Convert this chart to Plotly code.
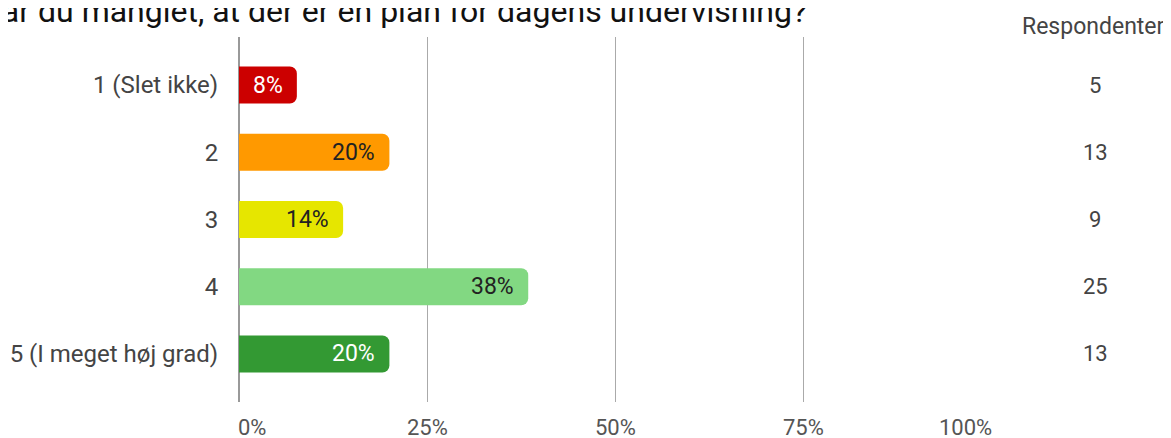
import plotly.graph_objects as go

categories = ["1 (Slet ikke)", "2", "3", "4", "5 (I meget høj grad)"]
counts = [5, 13, 9, 25, 13]
colors = ["#cc0000", "#ff9900", "#e6e600", "#82d882", "#339933"]
text_colors = ["#ffffff", "#222222", "#222222", "#222222", "#ffffff"]
tick_vals = [0, 25, 50, 75, 100]
tick_text = ["0%", "25%", "50%", "75%", "100%"]
title_text = "Har du manglet, at der er en plan for dagens undervisning?"
count_header = "Respondenter"

total = sum(counts)
pcts = [c / total * 100 for c in counts]

W, H = 1171, 438
OFF = 8  # page body margin
# plot area in screen pixels: x 239..991, y 37..402
ml, mt = 239 - OFF, 37 - OFF
mr = W - (991 - OFF)
mb = H - (402 - OFF)
pw, ph = W - ml - mr, H - mt - mb


def px_x(x):
    return (x - OFF - ml) / pw


def px_y(y):
    return 1 - (y - OFF - mt) / ph


fig = go.Figure()
fig.add_trace(go.Bar(
    x=pcts, y=list(range(len(categories))), orientation="h",
    marker=dict(color=colors, cornerradius=7, line=dict(width=0)),
    width=0.55, hoverinfo="skip",
))

annotations = []
for i, (p, tc) in enumerate(zip(pcts, text_colors)):
    annotations.append(dict(
        x=p, y=i, xref="x", yref="y", text=f"{round(p)}%",
        showarrow=False, xanchor="right", xshift=-12,
        font=dict(family="Roboto", size=23, color=tc),
    ))
for i, c in enumerate(counts):
    annotations.append(dict(
        x=px_x(1095), y=i, xref="paper", yref="y",
        text=str(c), showarrow=False, xanchor="center",
        font=dict(family="Roboto", size=22, color="#444444"),
    ))
# x tick labels: first left-aligned, last right-aligned, others centred
for j, (tv, tt) in enumerate(zip(tick_vals, tick_text)):
    anchor = "left" if j == 0 else ("right" if j == len(tick_vals) - 1 else "center")
    shift = -3 if j == 0 else (3 if j == len(tick_vals) - 1 else 0)
    annotations.append(dict(
        x=tv, y=px_y(427), xref="x", yref="paper", text=tt,
        showarrow=False, xanchor=anchor, yanchor="middle", xshift=shift,
        font=dict(family="Roboto", size=22, color="#555555"),
    ))
annotations.append(dict(
    x=px_x(1093), y=px_y(27),
    xref="paper", yref="paper", text=count_header, showarrow=False,
    xanchor="center", yanchor="middle",
    font=dict(family="Roboto", size=23, color="#444444"),
))
annotations.append(dict(
    x=px_x(809), y=px_y(11),
    xref="paper", yref="paper", text=title_text, showarrow=False,
    xanchor="right", yanchor="middle",
    font=dict(family="Roboto", size=32, color="#111111"),
))

fig.update_layout(
    width=W, height=H,
    margin=dict(l=ml, r=mr, t=mt, b=mb, pad=0, autoexpand=False),
    paper_bgcolor="white", plot_bgcolor="white",
    showlegend=False,
    annotations=annotations,
    xaxis=dict(
        range=[0, 100], tickvals=tick_vals, showticklabels=False,
        showgrid=True, gridcolor="#aaaaaa", gridwidth=1,
        zeroline=True, zerolinecolor="#999999", zerolinewidth=2,
        ticks="", showline=False, fixedrange=True, automargin=False,
    ),
    yaxis=dict(
        range=[4.714, -0.714],
        tickvals=list(range(len(categories))), ticktext=categories,
        tickfont=dict(family="Roboto", size=24, color="#444444"),
        ticks="outside", ticklen=15, tickcolor="rgba(0,0,0,0)",
        showgrid=False, zeroline=False, showline=False, fixedrange=True,
        automargin=False,
    ),
)

fig.write_html("out.html")
